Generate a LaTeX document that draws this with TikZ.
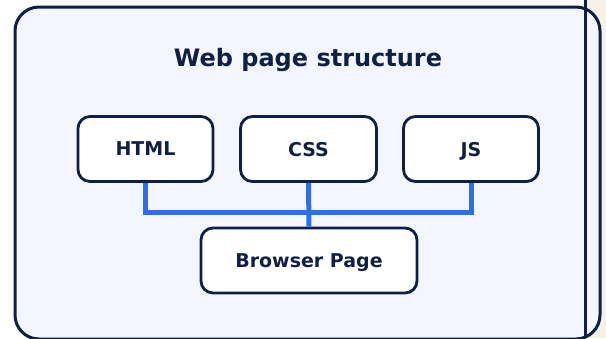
\documentclass[tikz,border=0pt]{standalone}
\usepackage{fontspec}
\setmainfont{DejaVu Sans}
\definecolor{navy}{HTML}{0F1F45}
\definecolor{panel}{HTML}{F3F6FE}
\definecolor{bus}{HTML}{2F6FE6}
\definecolor{beige}{HTML}{F6F1E9}
\tikzset{
  box/.style={draw=navy, line width=2.8pt, fill=white, rounded corners=12pt,
    minimum height=65pt, inner sep=0pt, text depth=0pt,
    font=\fontsize{19}{22}\selectfont\bfseries, text=navy},
  wire/.style={draw=bus, line width=5pt},
}
\begin{document}
\begin{tikzpicture}[x=1pt,y=-1pt]
\useasboundingbox (0,0) rectangle (606,338);
\fill[white] (0,0) rectangle (606,338);
\fill[beige] (586,0) rectangle (606,338);
\draw[navy, fill=panel, line width=3pt, rounded corners=24pt] (15,7) rectangle (600,339);
\draw[navy, line width=3pt] (585.5,0) -- (585.5,338);
\node[font=\fontsize{24}{28}\selectfont\bfseries, text=navy, text depth=0pt] (title) at (308,57) {Web page structure};
\node[box, minimum width=135pt] (html) at (145.5,149) {HTML};
\node[box, minimum width=136pt] (css) at (308.5,149) {CSS};
\node[box, minimum width=135pt] (js) at (471,149) {JS};
\node[box, minimum width=216pt] (page) at (309,260.5) {Browser Page};
\coordinate (busy) at (0,212.5);
\draw[wire] (html.south) -- (html.south |- busy) -- (js.south |- busy) -- (js.south);
\draw[wire] (css.south) -- (page.north);
\end{tikzpicture}
\end{document}
